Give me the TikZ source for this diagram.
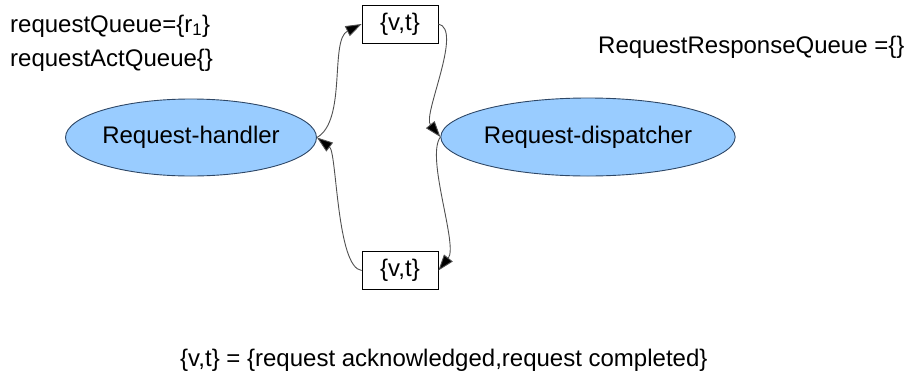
\documentclass[tikz,border=0pt]{standalone}
\usepackage{fontspec}
\setmainfont{Liberation Sans}
\usetikzlibrary{shapes.geometric,arrows.meta}
\definecolor{procfill}{HTML}{99CCFF}
\definecolor{procline}{HTML}{2E4766}
\definecolor{linkgray}{HTML}{505050}
\begin{document}
\begin{tikzpicture}[x=1pt,y=-1pt,
  every node/.style={font=\fontsize{24}{28}\selectfont, inner sep=0pt},
  process/.style={ellipse, draw=procline, fill=procfill, line width=0.9pt},
  msgbox/.style={draw=black, fill=white, line width=0.8pt, minimum width=76pt, minimum height=38pt},
  label/.style={anchor=base west},
  link/.style={draw=linkgray, line width=0.9pt, -{Triangle[length=16pt,width=11pt,fill=black]}}
]
\useasboundingbox (0,0) rectangle (906,381);

% state of the queues
\node[label] (rq) at (10,32) {requestQueue=\{r\textsubscript{1}\}};
\node[label] (raq) at (10,66) {requestActQueue\{\}};
\node[label] (rrq) at (598,53) {RequestResponseQueue =\{\}};

% the two processes
\node[process, minimum width=228pt, minimum height=77pt] (hand) at (191,137.5) {Request-handler};
\node[process, minimum width=226pt, minimum height=78pt] (disp) at (588,137) {Request-dispatcher};

% messages exchanged between them
\node[msgbox] (top) at (400,24) {\{v,t\}};
\node[msgbox] (bot) at (400,270.5) {\{v,t\}};

% message flow
\draw[link] (hand.east) .. controls +(30,-17) and +(-32,16) .. (top.west);
\draw[link] (top.east) .. controls +(25,5) and +(-18,-22) .. (disp.west);
\draw[link] (disp.west) .. controls +(-15,20) and +(20,-25) .. (bot.east);
\draw[link] (bot.west) .. controls +(-25,-3) and +(20,15) .. (hand.east);

% legend
\node[label] (legend) at (180,366) {\{v,t\} = \{request acknowledged,request completed\}};
\end{tikzpicture}
\end{document}
